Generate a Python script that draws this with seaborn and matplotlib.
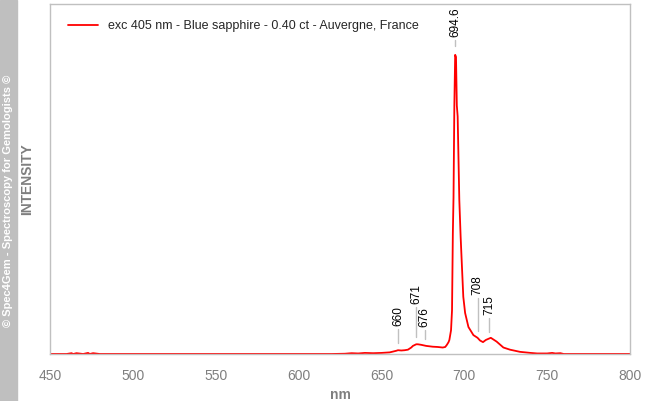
import numpy as np
import pandas as pd
import matplotlib.pyplot as plt
import seaborn as sns

sns.set_style("white")
plt.rcParams["font.family"] = ["Liberation Sans", "DejaVu Sans"]

# Spectrum (intensity in arbitrary units)
wavelength = [450, 460, 463, 464, 466, 470, 473, 474, 476, 480, 500, 550, 600, 620,
              628, 632, 636, 640, 645, 650, 655, 657, 659, 660, 662, 664, 666, 668,
              669, 671, 672, 674, 677, 681, 684, 687, 688.5, 689.5, 690.5, 691, 692,
              692.6, 693.1, 693.5, 694, 694.5, 695, 695.5, 696, 697, 697.8, 698.6,
              699.4, 700.5, 702.5, 705.5, 708, 709.5, 711.3, 713, 716, 719.5, 723.6,
              727.6, 733.6, 740, 744, 750, 753, 755, 758, 760, 780, 800]
intensity = [0, 0, 0.015, 0, 0.015, 0, 0.02, 0, 0.015, 0, 0, 0, 0, 0,
             0.005, 0.015, 0.01, 0.02, 0.015, 0.02, 0.03, 0.045, 0.06, 0.07, 0.065, 0.07, 0.08, 0.12,
             0.15, 0.18, 0.18, 0.17, 0.15, 0.135, 0.13, 0.12, 0.13, 0.17, 0.22, 0.26, 0.44,
             0.81, 2.24, 2.9, 4.6, 5.54, 5.5, 4.6, 4.4, 2.85, 2.17, 1.61,
             1.06, 0.76, 0.5, 0.35, 0.3, 0.25, 0.22, 0.26, 0.30, 0.23, 0.12,
             0.08, 0.04, 0.02, 0.01, 0.01, 0.02, 0.01, 0.015, 0, 0, 0]

# Peak annotations
peak_nm = [660, 671, 676, 694.6, 708, 715]
peak_labels = ["660", "671", "676", "694.6", "708", "715"]
stem_top = [0.46, 0.87, 0.44, 5.81, 1.04, 0.67]   # top of each marker line

label = "exc 405 nm - Blue sapphire - 0.40 ct - Auvergne, France"
df = pd.DataFrame({"nm": wavelength, "intensity": intensity, "sample": label})

fig = plt.figure(figsize=(6.46, 4.01), dpi=100)
ax = fig.add_axes([50 / 646, 47 / 401, 580 / 646, 350 / 401])

sns.lineplot(data=df, x="nm", y="intensity", hue="sample", palette=["#ff0000"],
             linewidth=1.3, ax=ax)

# Stems and labels over the peaks
for nm, txt, top in zip(peak_nm, peak_labels, stem_top):
    base = np.interp(nm, wavelength, intensity) + 0.13
    if txt == "694.6":
        base = max(intensity) + 0.16
    ax.plot([nm, nm], [base, top], color="#c0c0c0", linewidth=1)
    ax.text(nm, top + 0.06, txt, rotation=90, ha="center", va="bottom",
            fontsize=8.5, color="black")

ax.set_xlim(450, 800)
ax.set_ylim(0, 350 / 54)
ax.set_xticks(np.arange(450, 801, 50))
ax.set_yticks(np.arange(0, 7, 1))
ax.set_yticklabels([])
ax.tick_params(axis="both", direction="out", length=7, width=1, color="#b0b0b0",
               labelcolor="#7f7f7f", labelsize=10)
ax.tick_params(axis="y", length=8)
for s in ax.spines.values():
    s.set_color("#c0c0c0")
    s.set_linewidth(1)

ax.set_xlabel("nm", fontsize=10, fontweight="bold", color="#7f7f7f", labelpad=4)
ax.set_ylabel("INTENSITY", fontsize=10, fontweight="bold", color="#7f7f7f")
ax.yaxis.set_label_coords(-16 / 580, 0.5)

leg = ax.legend(loc="upper left", bbox_to_anchor=(0.012, 0.985), frameon=False,
                fontsize=9, handlelength=2.4, handletextpad=0.8)

# Side credit band
fig.patches.append(plt.Rectangle((0, 0), 17 / 646, 1, transform=fig.transFigure,
                                 color="#bfbfbf", zorder=0))
fig.text(8.5 / 646, 0.5, "© Spec4Gem - Spectroscopy for Gemologists ©", rotation=90,
         ha="center", va="center", color="white", fontsize=8, fontweight="bold")

plt.savefig("out.png", dpi=100)
